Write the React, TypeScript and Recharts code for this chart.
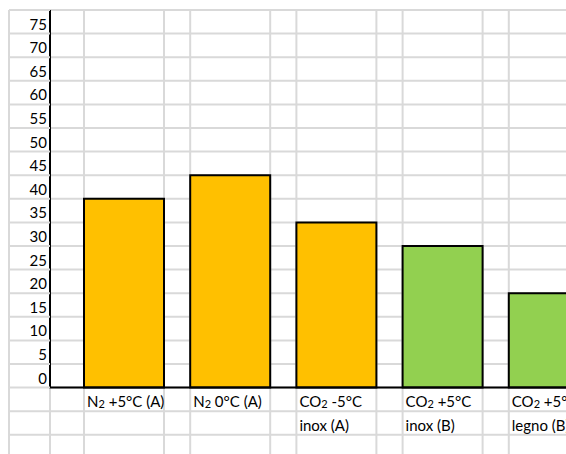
import React from "react";
import {
  BarChart,
  Bar,
  XAxis,
  YAxis,
  CartesianGrid,
  ReferenceLine,
  LabelList,
  Cell,
} from "recharts";

// categories (second line of the cell after \n)
const categories = [
  "N2 +5°C (A)",
  "N2 0°C (A)",
  "CO2 -5°C\ninox (A)",
  "CO2 +5°C\ninox (B)",
  "CO2 +5°C\nlegno (B)",
];
const values = [40, 45, 35, 30, 20];
const groups = ["A", "A", "A", "B", "B"];

// rows of the sheet, every 5; labels only shown 0..75
const yTicks = [-20, -15, -10, -5, 0, 5, 10, 15, 20, 25, 30, 35, 40, 45, 50, 55, 60, 65, 70, 75, 80];
const shownMin = 0;
const shownMax = 75;

const groupColors: Record<string, string> = { A: "#FFC000", B: "#92D050" };

const GRID = "#d9d9d9";
const LABEL_COL = 41; // width of the label column left of the axis
const FONT = "Lato, 'Open Sans', sans-serif";

const data = categories.map((name, i) => ({
  name,
  value: values[i],
  group: groups[i],
}));

// N2 / CO2 -> small digit after the letter
const ChemLine = ({ line }: { line: string }) => {
  const parts = line.split(/(?<=[A-Z])(\d)/);
  return (
    <>
      {parts.map((p, i) =>
        i % 2 ? (
          <tspan key={i} fontSize={11} dy={1}>
            {p}
          </tspan>
        ) : (
          <tspan key={i} dy={i ? -1 : 0}>
            {p}
          </tspan>
        )
      )}
    </>
  );
};

const YTick = (props: any) => {
  const { x, y, payload } = props;
  const v = payload.value;
  return (
    <g>
      {/* row line in the label column */}
      <line x1={x - LABEL_COL} x2={x} y1={y} y2={y} stroke={GRID} strokeWidth={2} />
      {/* left border of label column */}
      {v === yTicks[yTicks.length - 1] && (
        <line x1={x - LABEL_COL} x2={x - LABEL_COL} y1={y} y2={y + 600} stroke={GRID} strokeWidth={2} />
      )}
      {/* axis is only black above zero, gray cell border below */}
      {v === 0 && <line x1={x} x2={x} y1={y + 1} y2={y + 200} stroke={GRID} strokeWidth={2} />}
      {v >= shownMin && v <= shownMax && (
        <text x={x - 3} y={y - 4} textAnchor="end" fontSize={15} fontFamily={FONT} fill="#000">
          {v}
        </text>
      )}
    </g>
  );
};

// column borders follow each bar edge
const ColumnLines = (props: any) => {
  const { x, y, width, height } = props;
  return (
    <g>
      <line x1={x} x2={x} y1={y} y2={y + height} stroke={GRID} strokeWidth={2} />
      <line x1={x + width} x2={x + width} y1={y} y2={y + height} stroke={GRID} strokeWidth={2} />
    </g>
  );
};

const CategoryLabel = (props: any) => {
  const { x, y, height, value } = props;
  const lines = String(value).split("\n");
  const base = y + height;
  return (
    <g>
      {lines.map((line, i) => (
        <text key={i} x={x + 3} y={base + 19.5 + i * 23.6} fontSize={15} fontFamily={FONT} fill="#000">
          <ChemLine line={line} />
        </text>
      ))}
    </g>
  );
};

export default function App() {
  return (
    <div
      style={{
        position: "absolute",
        left: 0,
        top: 0,
        width: 566,
        height: 454,
        overflow: "hidden",
        background: "#fff",
      }}
    >
      <BarChart
        width={602}
        height={482}
        data={data}
        margin={{ top: 10, right: 0, bottom: 0, left: 9 }}
        barSize={80}
      >
        <CartesianGrid vertical={false} stroke={GRID} strokeWidth={2} />
        <XAxis dataKey="name" hide padding={{ left: 21, right: 0 }} />
        <YAxis
          type="number"
          domain={[yTicks[0], yTicks[yTicks.length - 1]]}
          ticks={yTicks}
          interval={0}
          width={LABEL_COL}
          axisLine={{ stroke: "#000", strokeWidth: 2 }}
          tickLine={false}
          tickSize={0}
          tickMargin={0}
          tick={(p: any) => <YTick {...p} />}
        />
        <Bar
          dataKey="value"
          stroke="#000"
          strokeWidth={2}
          background={(p: any) => <ColumnLines key={`col-${p.index}`} {...p} />}
          isAnimationActive={false}
        >
          {data.map((d) => (
            <Cell key={d.name} fill={groupColors[d.group]} />
          ))}
          <LabelList dataKey="name" content={(p: any) => <CategoryLabel {...p} />} />
        </Bar>
        <ReferenceLine y={0} stroke="#000" strokeWidth={2} />
      </BarChart>
    </div>
  );
}
